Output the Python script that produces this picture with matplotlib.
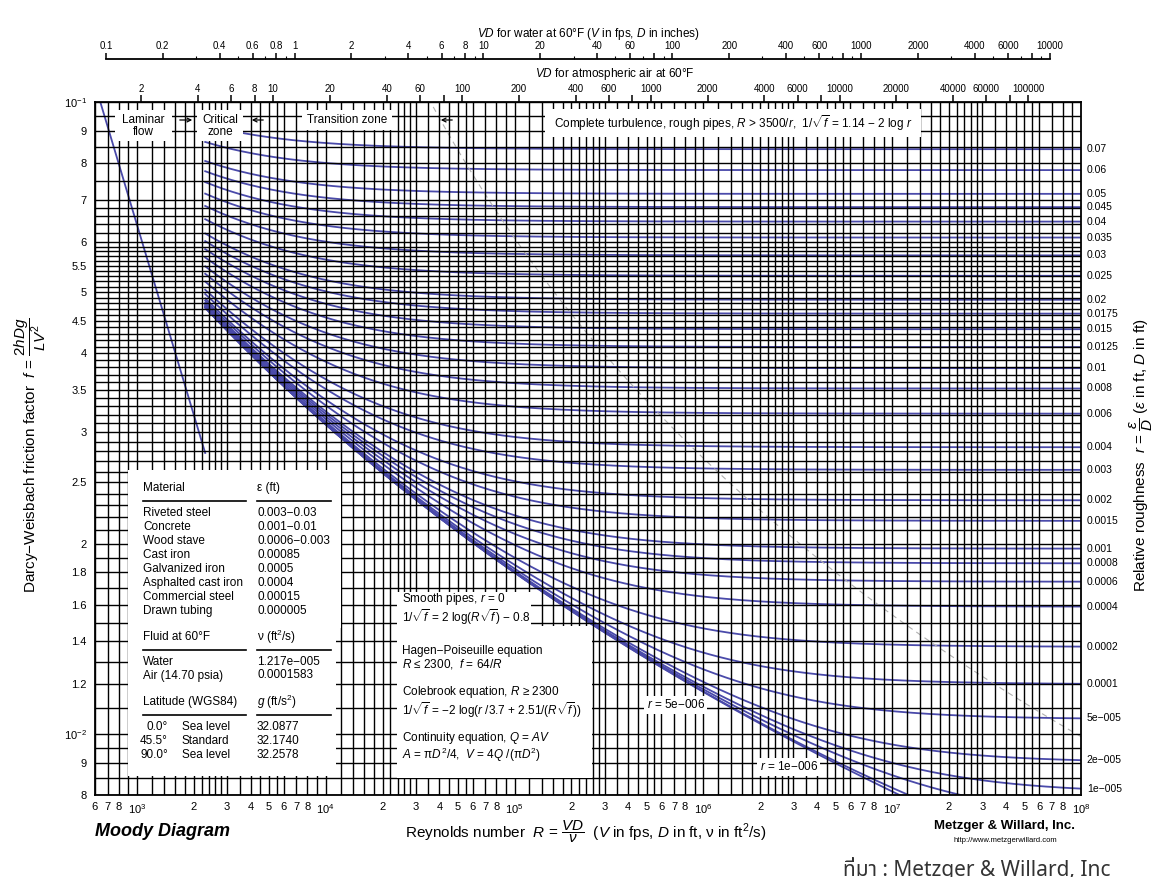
import numpy as np
import matplotlib
matplotlib.use('Agg')
import matplotlib.pyplot as plt
from matplotlib.patches import Rectangle, FancyArrowPatch
from matplotlib.lines import Line2D
from matplotlib.ticker import FixedLocator, NullLocator

plt.rcParams['font.family'] = ['Liberation Sans', 'DejaVu Sans']
plt.rcParams['mathtext.fontset'] = 'custom'
plt.rcParams['mathtext.rm'] = 'Liberation Sans'
plt.rcParams['mathtext.it'] = 'Liberation Sans:italic'
plt.rcParams['mathtext.bf'] = 'Liberation Sans:bold'

W, H = 1160, 877

# --- chart values ---
R_lim = [600, 1e8]
f_lim = [0.008, 0.1]
R_crit = 2300          # start of Colebrook curves / end of laminar line
nu_water = 1.217e-5    # ft^2/s
nu_air = 1.583e-4

rough = [0.07, 0.06, 0.05, 0.045, 0.04, 0.035, 0.03, 0.025, 0.02, 0.0175,
         0.015, 0.0125, 0.01, 0.008, 0.006, 0.004, 0.003, 0.002, 0.0015,
         0.001, 0.0008, 0.0006, 0.0004, 0.0002, 0.0001, 5e-5, 2e-5, 1e-5]
rough_labels = ['0.07', '0.06', '0.05', '0.045', '0.04', '0.035', '0.03',
                '0.025', '0.02', '0.0175', '0.015', '0.0125', '0.01', '0.008',
                '0.006', '0.004', '0.003', '0.002', '0.0015', '0.001', '0.0008',
                '0.0006', '0.0004', '0.0002', '0.0001', '5e\u2212005',
                '2e\u2212005', '1e\u2212005']
rough_inline = [5e-6, 1e-6]
inline_labels = ['$r$ = 5e\u2212006', '$r$ = 1e\u2212006']

f_ticks = [0.1, 0.09, 0.08, 0.07, 0.06, 0.055, 0.05, 0.045, 0.04, 0.035, 0.03,
           0.025, 0.02, 0.018, 0.016, 0.014, 0.012, 0.01, 0.009, 0.008]
f_tick_labels = ['$10^{-1}$', '9', '8', '7', '6', '5.5', '5', '4.5', '4', '3.5',
                 '3', '2.5', '2', '1.8', '1.6', '1.4', '1.2', '$10^{-2}$', '9', '8']

R_mult_labels = [2, 3, 4, 5, 6, 7, 8]
water_ticks = [0.1, 0.2, 0.4, 0.6, 0.8, 1, 2, 4, 6, 8, 10, 20, 40, 60, 80, 100,
               200, 400, 600, 800, 1000, 2000, 4000, 6000, 8000, 10000]
water_labels = ['0.1', '0.2', '0.4', '0.6', '0.8', '1', '2', '4', '6', '8', '10',
                '20', '40', '60', '', '100', '200', '400', '600', '', '1000',
                '2000', '4000', '6000', '', '10000']
air_ticks = [2, 4, 6, 8, 10, 20, 40, 60, 80, 100, 200, 400, 600, 800, 1000, 2000,
             4000, 6000, 8000, 10000, 20000, 40000, 60000, 80000, 100000]
air_labels = ['2', '4', '6', '8', '10', '20', '40', '60', '', '100', '200', '400',
              '600', '', '1000', '2000', '4000', '6000', '', '10000', '20000',
              '40000', '60000', '', '100000']

# grid lines
grid_R_mult = [1, 1.2, 1.4, 1.6, 1.8, 2, 2.2, 2.4, 2.6, 2.8, 3, 3.5, 4, 4.5, 5,
               5.5, 6, 7, 8, 9]
grid_f = (list(np.arange(0.008, 0.0101, 0.0005)) + list(np.arange(0.011, 0.0605, 0.001))
          + list(np.arange(0.062, 0.0705, 0.002)) + list(np.arange(0.075, 0.1005, 0.005)))

materials = ['Riveted steel', 'Concrete', 'Wood stave', 'Cast iron',
             'Galvanized iron', 'Asphalted cast iron', 'Commercial steel',
             'Drawn tubing']
eps_ft = ['0.003\u22120.03', '0.001\u22120.01', '0.0006\u22120.003', '0.00085',
          '0.0005', '0.0004', '0.00015', '0.000005']
fluids = ['Water', 'Air (14.70 psia)']
nu_vals = ['1.217e\u2212005', '0.0001583']
lat_deg = ['0.0\u00b0', '45.5\u00b0', '90.0\u00b0']
lat_desc = ['Sea level', 'Standard', 'Sea level']
g_vals = ['32.0877', '32.1740', '32.2578']

equations = [
    'Smooth pipes, $r$ = 0\n1/$\\sqrt{f}$ = 2 log($R\\sqrt{f}$) \u2212 0.8',
    'Hagen\u2212Poiseuille equation\n$R$ \u2264 2300,  $f$ = 64/$R$',
    'Colebrook equation, $R$ \u2265 2300\n1/$\\sqrt{f}$ = \u22122 log($r$ /3.7 + 2.51/($R\\sqrt{f}$))',
    'Continuity equation, $Q$ = $AV$\n$A$ = \u03c0$D^2$/4,  $V$ = 4$Q$ /(\u03c0$D^2$)',
]

CURVE = '#4a4aaa'


def colebrook(R, r):
    x = np.full_like(R, 7.0)
    for _ in range(80):
        x = -2 * np.log10(r / 3.7 + 2.51 * x / R)
    return 1 / x ** 2


def smooth(R):
    x = np.full_like(R, 7.0)
    for _ in range(80):
        x = 2 * np.log10(R / x) - 0.8
    return 1 / x ** 2


def fx(x):
    return x / W


def fy(y):
    return 1 - y / H


fig = plt.figure(figsize=(W / 100, H / 100), dpi=100)
fig.patch.set_facecolor('white')
L, R_, T_, B = 95, 1081, 102, 795
ax = fig.add_axes([fx(L), fy(B), fx(R_) - fx(L), fy(T_) - fy(B)])
ax.set_xscale('log')
ax.set_yscale('log')
ax.set_xlim(R_lim)
ax.set_ylim(f_lim)

# curves
Rc = np.logspace(np.log10(R_crit), 8, 400)
for r in rough + rough_inline:
    ax.plot(Rc, colebrook(Rc, r), color=CURVE, lw=1.3, zorder=1)
ax.plot(Rc, smooth(Rc), color=CURVE, lw=1.3, zorder=1)
Rl = np.logspace(np.log10(R_lim[0]), np.log10(R_crit), 50)
ax.plot(Rl, 64 / Rl, color=CURVE, lw=1.3, zorder=1)

# complete turbulence boundary R = 3500/r
rb = np.logspace(-1, np.log10(3.5e-5), 100)
ax.plot(3500 / rb, (1 / (1.14 - 2 * np.log10(rb))) ** 2, color='#b0b0b0',
        lw=0.8, ls=(0, (5, 4)), zorder=1.5)

# grid
gx = [m * 10.0 ** k for k in range(2, 8) for m in grid_R_mult]
gx = [v for v in gx if R_lim[0] <= v <= R_lim[1]]
ax.vlines(gx, f_lim[0], f_lim[1], colors='black', lw=1.0, zorder=2)
ax.hlines(grid_f, R_lim[0], R_lim[1], colors='black', lw=1.0, zorder=2)
for s in ax.spines.values():
    s.set_linewidth(1.3)
    s.set_zorder(5)

# ticks
ax.yaxis.set_major_locator(FixedLocator(f_ticks))
ax.yaxis.set_minor_locator(NullLocator())
ax.set_yticklabels(f_tick_labels)
xt, xl = [], []
for k in range(2, 9):
    if 10.0 ** k >= R_lim[0]:
        xt.append(10.0 ** k)
        xl.append('$10^{%d}$' % k)
    if k < 8:
        for m in R_mult_labels:
            v = m * 10.0 ** k
            if R_lim[0] <= v:
                xt.append(v)
                xl.append(str(m))
ax.xaxis.set_major_locator(FixedLocator(xt))
ax.xaxis.set_minor_locator(NullLocator())
ax.set_xticklabels(xl)
ax.tick_params(axis='both', which='both', length=0, labelsize=8)
ax.tick_params(axis='x', pad=5)
ax.tick_params(axis='y', pad=6)

# right-hand roughness labels
for r, lab in zip(rough, rough_labels):
    fv = colebrook(np.array([R_lim[1]]), r)[0]
    ax.text(1.006, fv, lab, transform=ax.get_yaxis_transform(), fontsize=7.5,
            va='center', ha='left')

# air scale (top of axes)
sec = ax.secondary_xaxis('top', functions=(lambda R: R * 12 * nu_air,
                                           lambda v: v / (12 * nu_air)))
sec.xaxis.set_major_locator(FixedLocator(air_ticks))
sec.xaxis.set_minor_locator(NullLocator())
sec.set_xticklabels(air_labels)
sec.tick_params(direction='out', length=5, width=1.1, labelsize=7, pad=1)
sec.spines['top'].set_visible(False)

# water scale (separate line above)
axw = fig.add_axes([fx(L), fy(59), fx(R_) - fx(L), 1e-6])
axw.set_xscale('log')
axw.set_xlim(R_lim[0] * 12 * nu_water, R_lim[1] * 12 * nu_water)
axw.set_yticks([])
for s in ['left', 'right', 'bottom']:
    axw.spines[s].set_visible(False)
axw.spines['top'].set_bounds(0.1, 10000)
axw.spines['top'].set_linewidth(1.3)
axw.patch.set_visible(False)
axw.xaxis.set_ticks_position('top')
axw.xaxis.set_major_locator(FixedLocator(water_ticks))
minor_w = [m * 10.0 ** k for k in range(-1, 4) for m in range(1, 10)]
axw.xaxis.set_minor_locator(FixedLocator([v for v in minor_w if 0.1 <= v <= 10000
                                          and v not in water_ticks]))
axw.set_xticklabels(water_labels)
axw.tick_params(which='major', direction='out', length=4.5, width=1.1, labelsize=7, pad=1)
axw.tick_params(which='minor', direction='out', length=2, width=0.8)

fig.text(fx(588), fy(34), '$VD$ for water at 60\u00b0F ($V$ in fps, $D$ in inches)',
         fontsize=8.5, ha='center', va='center')
fig.text(fx(615), fy(74), '$VD$ for atmospheric air at 60\u00b0F',
         fontsize=8.5, ha='center', va='center')


def white_box(x0, y0, x1, y1):
    fig.add_artist(Rectangle((fx(x0), fy(y1)), fx(x1) - fx(x0), fy(y0) - fy(y1),
                             transform=fig.transFigure, facecolor='white',
                             edgecolor='none', zorder=1))


def T(x, y, s, **kw):
    kw.setdefault('fontsize', 8.5)
    kw.setdefault('va', 'center')
    fig.text(fx(x), fy(y), s, zorder=3, **kw)


def hline(x0, x1, y):
    fig.add_artist(Line2D([fx(x0), fx(x1)], [fy(y), fy(y)], color='black', lw=1.2,
                          transform=fig.transFigure, zorder=3))


# top-strip zone labels
white_box(115, 110, 172, 141)
T(143, 126, 'Laminar\nflow', ha='center', linespacing=1.0)
white_box(197, 110, 243, 141)
T(220, 126, 'Critical\nzone', ha='center', linespacing=1.0)
white_box(302, 110, 392, 130)
T(347, 120, 'Transition zone', ha='center')
white_box(545, 109, 921, 137)
T(733, 123, 'Complete turbulence, rough pipes, $R$ > 3500/$r$,  1/$\\sqrt{f}$ = 1.14 \u2212 2 log $r$',
  ha='center')
for x0, x1 in [(177, 195), (266, 249), (455, 438)]:
    fig.add_artist(FancyArrowPatch(
        (fx(x0), fy(120)), (fx(x1), fy(120)), transform=fig.transFigure,
        arrowstyle='->', mutation_scale=7, lw=0.9, color='black', zorder=3))

# material table
white_box(128, 470, 341, 628)
white_box(128, 628, 336, 776)
c1, c2 = 143, 257
T(c1, 488, 'Material')
T(c2, 488, '\u03b5 (ft)')
hline(143, 246, 501)
hline(257, 331, 501)
for i, (m, e) in enumerate(zip(materials, eps_ft)):
    T(c1, 513 + 14 * i, m)
    T(c2, 513 + 14 * i, e)
T(c1, 637, 'Fluid at 60\u00b0F')
T(c2, 637, '\u03bd (ft$^2$/s)')
hline(143, 246, 650)
hline(257, 331, 650)
for i, (m, e) in enumerate(zip(fluids, nu_vals)):
    T(c1, 662 + 13.5 * i, m)
    T(c2, 662 + 13.5 * i, e)
T(c1, 702, 'Latitude (WGS84)')
T(c2, 702, '$g$ (ft/s$^2$)')
hline(143, 246, 715)
hline(257, 331, 715)
for i, (d, s, g) in enumerate(zip(lat_deg, lat_desc, g_vals)):
    T(168, 727 + 14 * i, d, ha='right')
    T(182, 727 + 14 * i, s)
    T(c2, 727 + 14 * i, g)

# equation block (one text per equation, two lines each)
white_box(397, 592, 531, 626)
white_box(397, 626, 592, 778)
for y, s in zip([609, 658, 702, 747], equations):
    T(402, y, s, linespacing=1.05)

# inline roughness labels
T(705, 705, inline_labels[0], ha='right',
  bbox=dict(facecolor='white', edgecolor='none', pad=1.5))
T(818, 767, inline_labels[1], ha='right',
  bbox=dict(facecolor='white', edgecolor='none', pad=1.5))

# axis titles
fig.text(fx(30), fy(455), 'Darcy\u2212Weisbach friction factor  $f$ = $\\dfrac{2hDg}{LV^2}$',
         rotation=90, fontsize=11, ha='center', va='center')
fig.text(fx(1142), fy(455), 'Relative roughness  $r$ = $\\dfrac{\\epsilon}{D}$ ($\\epsilon$ in ft, $D$ in ft)',
         rotation=90, fontsize=11, ha='center', va='center')
fig.text(fx(95), fy(832), 'Moody Diagram', fontsize=13, fontweight='bold',
         fontstyle='italic', ha='left', va='center')
fig.text(fx(405), fy(832), 'Reynolds number  $R$ = $\\dfrac{VD}{\\nu}$  ($V$ in fps, $D$ in ft, \u03bd in ft$^2$/s)',
         fontsize=11, ha='left', va='center')
fig.text(fx(1005), fy(826), 'Metzger & Willard, Inc.', fontsize=9.5,
         fontweight='bold', ha='center', va='center')
fig.text(fx(1005), fy(840), 'http://www.metzgerwillard.com', fontsize=5.5,
         ha='center', va='center')
fig.text(fx(843), fy(857), '\u0e17\u0e35\u0e48\u0e21\u0e32 : Metzger & Willard, Inc',
         fontsize=15, color='#333333', ha='left', va='top',
         family=['Noto Sans Thai', 'Noto Sans', 'DejaVu Sans'])

fig.savefig('out.png', dpi=100)
